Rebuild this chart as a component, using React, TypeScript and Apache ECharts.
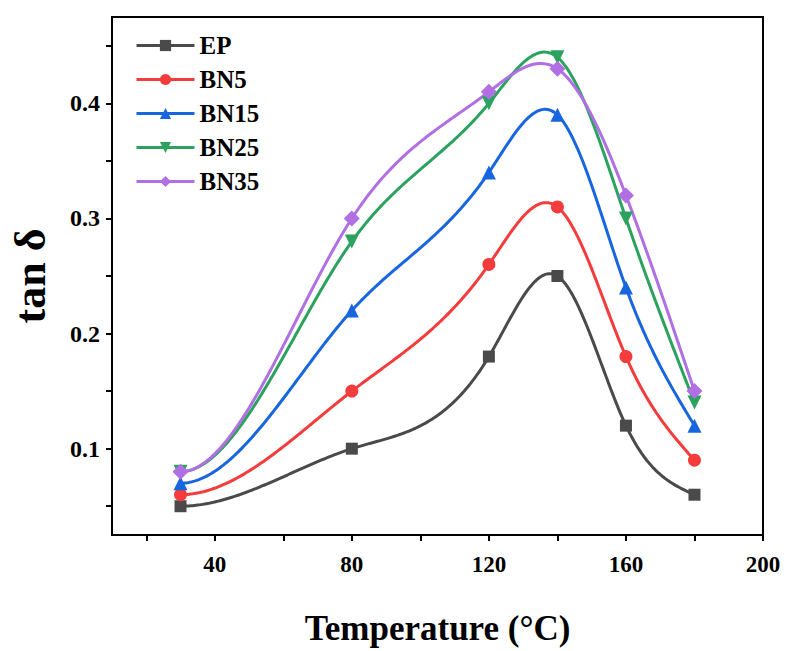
import React, { useEffect, useRef } from "react";
import * as echarts from "echarts";

// Temperature (°C) at which tan δ was measured
const temperatures = [30, 80, 120, 140, 160, 180];

// Loss tangent for each sample
const seriesNames = ["EP", "BN5", "BN15", "BN25", "BN35"];
const epValues = [0.05, 0.1, 0.18, 0.25, 0.12, 0.06];
const bn5Values = [0.06, 0.15, 0.26, 0.31, 0.18, 0.09];
const bn15Values = [0.07, 0.22, 0.34, 0.39, 0.24, 0.12];
const bn25Values = [0.08, 0.28, 0.4, 0.44, 0.3, 0.14];
const bn35Values = [0.08, 0.3, 0.41, 0.43, 0.32, 0.15];

// Axis ticks and labels
const xTicks = [20, 40, 60, 80, 100, 120, 140, 160, 180, 200];
const xLabels = [40, 80, 120, 160, 200];
const yTicks = [0.05, 0.1, 0.15, 0.2, 0.25, 0.3, 0.35, 0.4, 0.45];
const yLabels = [0.1, 0.2, 0.3, 0.4];

const colors = ["#4a4a4a", "#f43c3c", "#1766e0", "#2ca25f", "#b06fe2"];
const symbols = ["rect", "circle", "triangle", "triangle", "diamond"];
const rotations = [0, 0, 0, 180, 0];
const symbolSizes = [12, 13, 14, 14, 16];

const FONT = "'Liberation Serif', 'Times New Roman', serif";

// Cubic spline through the measured points: flat start, natural end.
function cubicSpline(xs: number[], ys: number[]) {
  const n = xs.length;
  const h: number[] = [];
  for (let i = 0; i < n - 1; i++) h.push(xs[i + 1] - xs[i]);
  const A: number[][] = Array.from({ length: n }, () => new Array(n + 1).fill(0));
  // clamped first derivative of zero at the first point
  A[0][0] = 2 * h[0];
  A[0][1] = h[0];
  A[0][n] = (6 * (ys[1] - ys[0])) / h[0];
  for (let i = 1; i < n - 1; i++) {
    A[i][i - 1] = h[i - 1];
    A[i][i] = 2 * (h[i - 1] + h[i]);
    A[i][i + 1] = h[i];
    A[i][n] = 6 * ((ys[i + 1] - ys[i]) / h[i] - (ys[i] - ys[i - 1]) / h[i - 1]);
  }
  // natural end
  A[n - 1][n - 1] = 1;
  // Gauss-Jordan elimination with partial pivoting
  for (let c = 0; c < n; c++) {
    let p = c;
    for (let r = c + 1; r < n; r++) if (Math.abs(A[r][c]) > Math.abs(A[p][c])) p = r;
    [A[c], A[p]] = [A[p], A[c]];
    for (let r = 0; r < n; r++) {
      if (r === c) continue;
      const f = A[r][c] / A[c][c];
      for (let k = c; k <= n; k++) A[r][k] -= f * A[c][k];
    }
  }
  const M = A.map((row, i) => row[n] / row[i]);
  return (x: number) => {
    let i = 0;
    while (i < n - 2 && x > xs[i + 1]) i++;
    const a = xs[i + 1] - x;
    const b = x - xs[i];
    const hi = h[i];
    return (
      (M[i] * a * a * a) / (6 * hi) +
      (M[i + 1] * b * b * b) / (6 * hi) +
      (ys[i] / hi - (M[i] * hi) / 6) * a +
      (ys[i + 1] / hi - (M[i + 1] * hi) / 6) * b
    );
  };
}

export default function App() {
  const ref = useRef<HTMLDivElement>(null);

  useEffect(() => {
    if (!ref.current) return;
    const chart = echarts.init(ref.current, undefined, { renderer: "svg" });
    const allValues = [epValues, bn5Values, bn15Values, bn25Values, bn35Values];

    // Markers (and legend entries) for each sample
    const markerSeries = seriesNames.map((name, i) => ({
      name,
      type: "line",
      data: temperatures.map((t, j) => [t, allValues[i][j]]),
      symbol: symbols[i],
      symbolRotate: rotations[i],
      symbolSize: symbolSizes[i],
      color: colors[i],
      lineStyle: { width: 0, color: colors[i] },
      itemStyle: { color: colors[i] },
      z: 5,
    }));

    // Spline curves drawn through the same points on the chart's own scales
    const curveSeries = seriesNames.map((name, i) => {
      const f = cubicSpline(temperatures, allValues[i]);
      return {
        name,
        type: "custom",
        data: temperatures.map((t, j) => [t, allValues[i][j]]),
        z: 2,
        renderItem: (params: any, api: any) => {
          if (params.dataIndex !== 0) return null;
          const x0 = temperatures[0];
          const x1 = temperatures[temperatures.length - 1];
          const steps = 300;
          const points: number[][] = [];
          for (let s = 0; s <= steps; s++) {
            const x = x0 + ((x1 - x0) * s) / steps;
            points.push(api.coord([x, f(x)]));
          }
          return {
            type: "polyline",
            shape: { points },
            style: { stroke: colors[i], lineWidth: 3, fill: null, lineJoin: "round" },
          };
        },
      };
    });

    chart.setOption({
      animation: false,
      backgroundColor: "#ffffff",
      grid: {
        left: 106,
        right: 28,
        top: 17,
        bottom: 104,
        show: true,
        borderColor: "#000",
        borderWidth: 2,
      },
      legend: {
        orient: "vertical",
        left: 130,
        top: 28,
        itemWidth: 58,
        itemHeight: 14,
        itemGap: 9,
        data: seriesNames,
        lineStyle: { width: 3 },
        textStyle: {
          fontFamily: FONT,
          fontWeight: "bold",
          fontSize: 25,
          color: "#000",
        },
      },
      xAxis: {
        type: "value",
        min: 10,
        max: 200,
        name: "Temperature (°C)",
        nameLocation: "middle",
        nameGap: 76,
        nameTextStyle: {
          fontFamily: FONT,
          fontWeight: "bold",
          fontSize: 35,
          color: "#000",
        },
        axisLine: { lineStyle: { color: "#000", width: 2 } },
        axisTick: {
          show: true,
          inside: false,
          length: 6,
          lineStyle: { color: "#000", width: 2 },
          customValues: xTicks,
        },
        axisLabel: {
          customValues: xLabels,
          margin: 18,
          fontFamily: FONT,
          fontWeight: "bold",
          fontSize: 23,
          color: "#000",
        },
        splitLine: { show: false },
      },
      yAxis: {
        type: "value",
        min: 0.025,
        max: 0.475,
        name: "tan δ",
        nameLocation: "middle",
        nameGap: 60,
        nameTextStyle: {
          fontFamily: FONT,
          fontWeight: "bold",
          fontSize: 44,
          color: "#000",
        },
        axisLine: { lineStyle: { color: "#000", width: 2 } },
        axisTick: {
          show: true,
          inside: false,
          length: 6,
          lineStyle: { color: "#000", width: 2 },
          customValues: yTicks,
        },
        axisLabel: {
          customValues: yLabels,
          margin: 12,
          fontFamily: FONT,
          fontWeight: "bold",
          fontSize: 24,
          color: "#000",
          formatter: (v: number) => v.toFixed(1),
        },
        splitLine: { show: false },
      },
      series: [...markerSeries, ...curveSeries],
    });

    return () => chart.dispose();
  }, []);

  return (
    <div
      ref={ref}
      style={{ position: "absolute", left: 0, top: 0, width: 791, height: 651 }}
    />
  );
}
